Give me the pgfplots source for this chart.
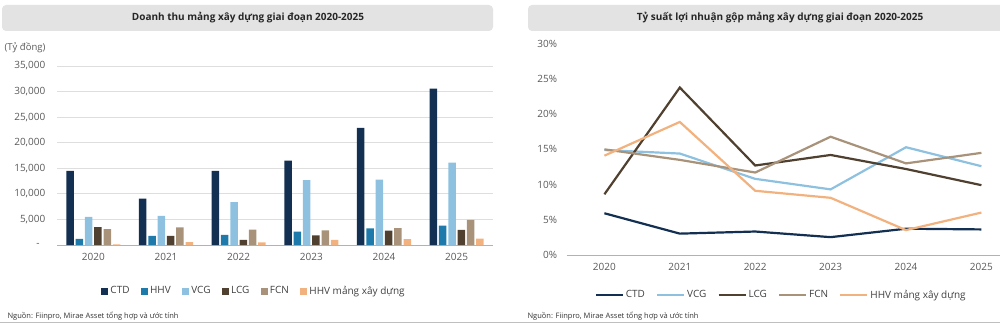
\documentclass[border=0pt]{standalone}
\usepackage{pgfplots}
\usepackage{pgfplotstable}
\pgfplotsset{compat=1.18}
\usepackage{fontspec}
\setmainfont{Open Sans}
\definecolor{cCTD}{HTML}{132F52}
\definecolor{cHHV}{HTML}{1D7AAB}
\definecolor{cVCG}{HTML}{8EC1E0}
\definecolor{cLCG}{HTML}{50402F}
\definecolor{cFCN}{HTML}{A8937A}
\definecolor{cHHVm}{HTML}{F2B27F}
\definecolor{tickc}{HTML}{595959}
\definecolor{titlebg}{HTML}{E3E3E3}
\pgfplotstableread{
x CTD HHV VCG LCG FCN HHVm
0 14500 1200 5500 3500 3100 100
1 9050 1800 5700 1800 3450 550
2 14500 2000 8400 1000 3000 500
3 16500 2600 12700 1900 2850 1000
4 22900 3250 12800 2800 3300 1150
5 30600 3800 16100 2950 4900 1250
}\rev
\pgfplotstableread{
x CTD VCG LCG FCN HHVm
0 5.9 14.9 8.6 15.0 14.1
1 3.0 14.4 23.8 13.5 18.9
2 3.3 10.8 12.7 11.7 9.1
3 2.5 9.3 14.2 16.8 8.1
4 3.7 15.3 12.2 13.0 3.5
5 3.6 12.6 9.9 14.5 6.0
}\margin
\begin{document}
\begin{tikzpicture}
\useasboundingbox (0pt,0pt) rectangle (1000pt,324pt);
% title boxes
\fill[titlebg, rounded corners=4pt] (2pt,293pt) rectangle (493pt,319pt);
\fill[titlebg, rounded corners=4pt] (528pt,293pt) rectangle (1010pt,319pt);
\node[font=\fontsize{10}{12}\selectfont\bfseries, text=black!85] at (248pt,306pt) {Doanh thu mảng xây dựng giai đoạn 2020-2025};
\node[font=\fontsize{10}{12}\selectfont\bfseries, text=black!85] at (780pt,306pt) {Tỷ suất lợi nhuận gộp mảng xây dựng giai đoạn 2020-2025};
\node[font=\fontsize{9.5}{11}\selectfont, text=tickc] at (25pt,276pt) {(Tỷ đồng)};
% source
\node[anchor=west, font=\fontsize{7.5}{9}\selectfont, text=black!80] at (4pt,8pt) {Nguồn: Fiinpro, Mirae Asset tổng hợp và ước tính};
\node[anchor=west, font=\fontsize{7.5}{9}\selectfont, text=black!80] at (524pt,8pt) {Nguồn: Fiinpro, Mirae Asset tổng hợp và ước tính};
\draw[black!25, line width=0.8pt] (0pt,1.5pt) -- (1000pt,1.5pt);
% left chart
\begin{axis}[
  at={(57pt,79pt)}, anchor=south west,
  scale only axis, width=436pt, height=179pt,
  xmin=-0.5, xmax=5.5, ymin=0, ymax=35000,
  scaled y ticks=false,
  ybar, bar width=7.5pt, ybar=1.8pt,
  xtick={0,...,5}, xticklabels={2020,2021,2022,2023,2024,2025},
  ytick={0,5000,10000,15000,20000,25000,30000,35000},
  yticklabels={{-\hphantom{0}},{5,000},{10,000},{15,000},{20,000},{25,000},{30,000},{35,000}},
  axis lines=left,
  y axis line style={draw=none},
  x axis line style={draw=black!30, -},
  tick style={draw=none},
  ymajorgrids, grid style={draw=black!13, line width=0.8pt},
  ticklabel style={font=\fontsize{10}{12}\selectfont, text=tickc},
  yticklabel style={xshift=-6pt},
  xticklabel style={yshift=-3pt},
  legend style={at={(0.452,-0.257)}, anchor=center, draw=none, fill=none,
    legend columns=6, font=\fontsize{10}{12}\selectfont, text=black!75,
    /tikz/every even column/.append style={column sep=9.5pt}},
  legend cell align=left,
]
\addplot[fill=cCTD, draw=none, legend image code/.code={\fill[cCTD] (0pt,-3.5pt) rectangle (7pt,3.5pt);}] table[x=x,y=CTD] {\rev};
\addplot[fill=cHHV, draw=none, legend image code/.code={\fill[cHHV] (0pt,-3.5pt) rectangle (7pt,3.5pt);}] table[x=x,y=HHV] {\rev};
\addplot[fill=cVCG, draw=none, legend image code/.code={\fill[cVCG] (0pt,-3.5pt) rectangle (7pt,3.5pt);}] table[x=x,y=VCG] {\rev};
\addplot[fill=cLCG, draw=none, legend image code/.code={\fill[cLCG] (0pt,-3.5pt) rectangle (7pt,3.5pt);}] table[x=x,y=LCG] {\rev};
\addplot[fill=cFCN, draw=none, legend image code/.code={\fill[cFCN] (0pt,-3.5pt) rectangle (7pt,3.5pt);}] table[x=x,y=FCN] {\rev};
\addplot[fill=cHHVm, draw=none, legend image code/.code={\fill[cHHVm] (0pt,-3.5pt) rectangle (7pt,3.5pt);}] table[x=x,y=HHVm] {\rev};
\legend{CTD,HHV,VCG,LCG,FCN,HHV mảng xây dựng}
\end{axis}
% right chart
\begin{axis}[
  at={(566.7pt,69.3pt)}, anchor=south west,
  scale only axis, width=452.4pt, height=210.7pt,
  xmin=-0.5, xmax=5.5, ymin=0, ymax=30,
  xtick={0,...,5}, xticklabels={2020,2021,2022,2023,2024,2025},
  ytick={0,5,...,30},
  yticklabel={\pgfmathprintnumber{\tick}\%},
  /pgf/number format/assume math mode=true,
  axis lines=left,
  y axis line style={draw=none},
  x axis line style={draw=black!30, -},
  tick style={draw=none},
  ticklabel style={font=\fontsize{10}{12}\selectfont, text=tickc},
  yticklabel style={xshift=-4pt},
  xticklabel style={yshift=-3pt},
  legend style={at={(0.474,-0.191)}, anchor=center, draw=none, fill=none,
    legend columns=5, font=\fontsize{10}{12}\selectfont, text=black!75,
    /tikz/every even column/.append style={column sep=9pt}},
  legend cell align=left,
  every axis plot/.append style={line width=2.2pt, mark=none},
  legend image code/.code={\draw[#1] (0pt,0pt) -- (27pt,0pt);},
]
\addplot[color=cCTD] table[x=x,y=CTD] {\margin};
\addplot[color=cVCG] table[x=x,y=VCG] {\margin};
\addplot[color=cLCG] table[x=x,y=LCG] {\margin};
\addplot[color=cFCN] table[x=x,y=FCN] {\margin};
\addplot[color=cHHVm] table[x=x,y=HHVm] {\margin};
\legend{CTD,VCG,LCG,FCN,HHV mảng xây dựng}
\end{axis}
\end{tikzpicture}
\end{document}
